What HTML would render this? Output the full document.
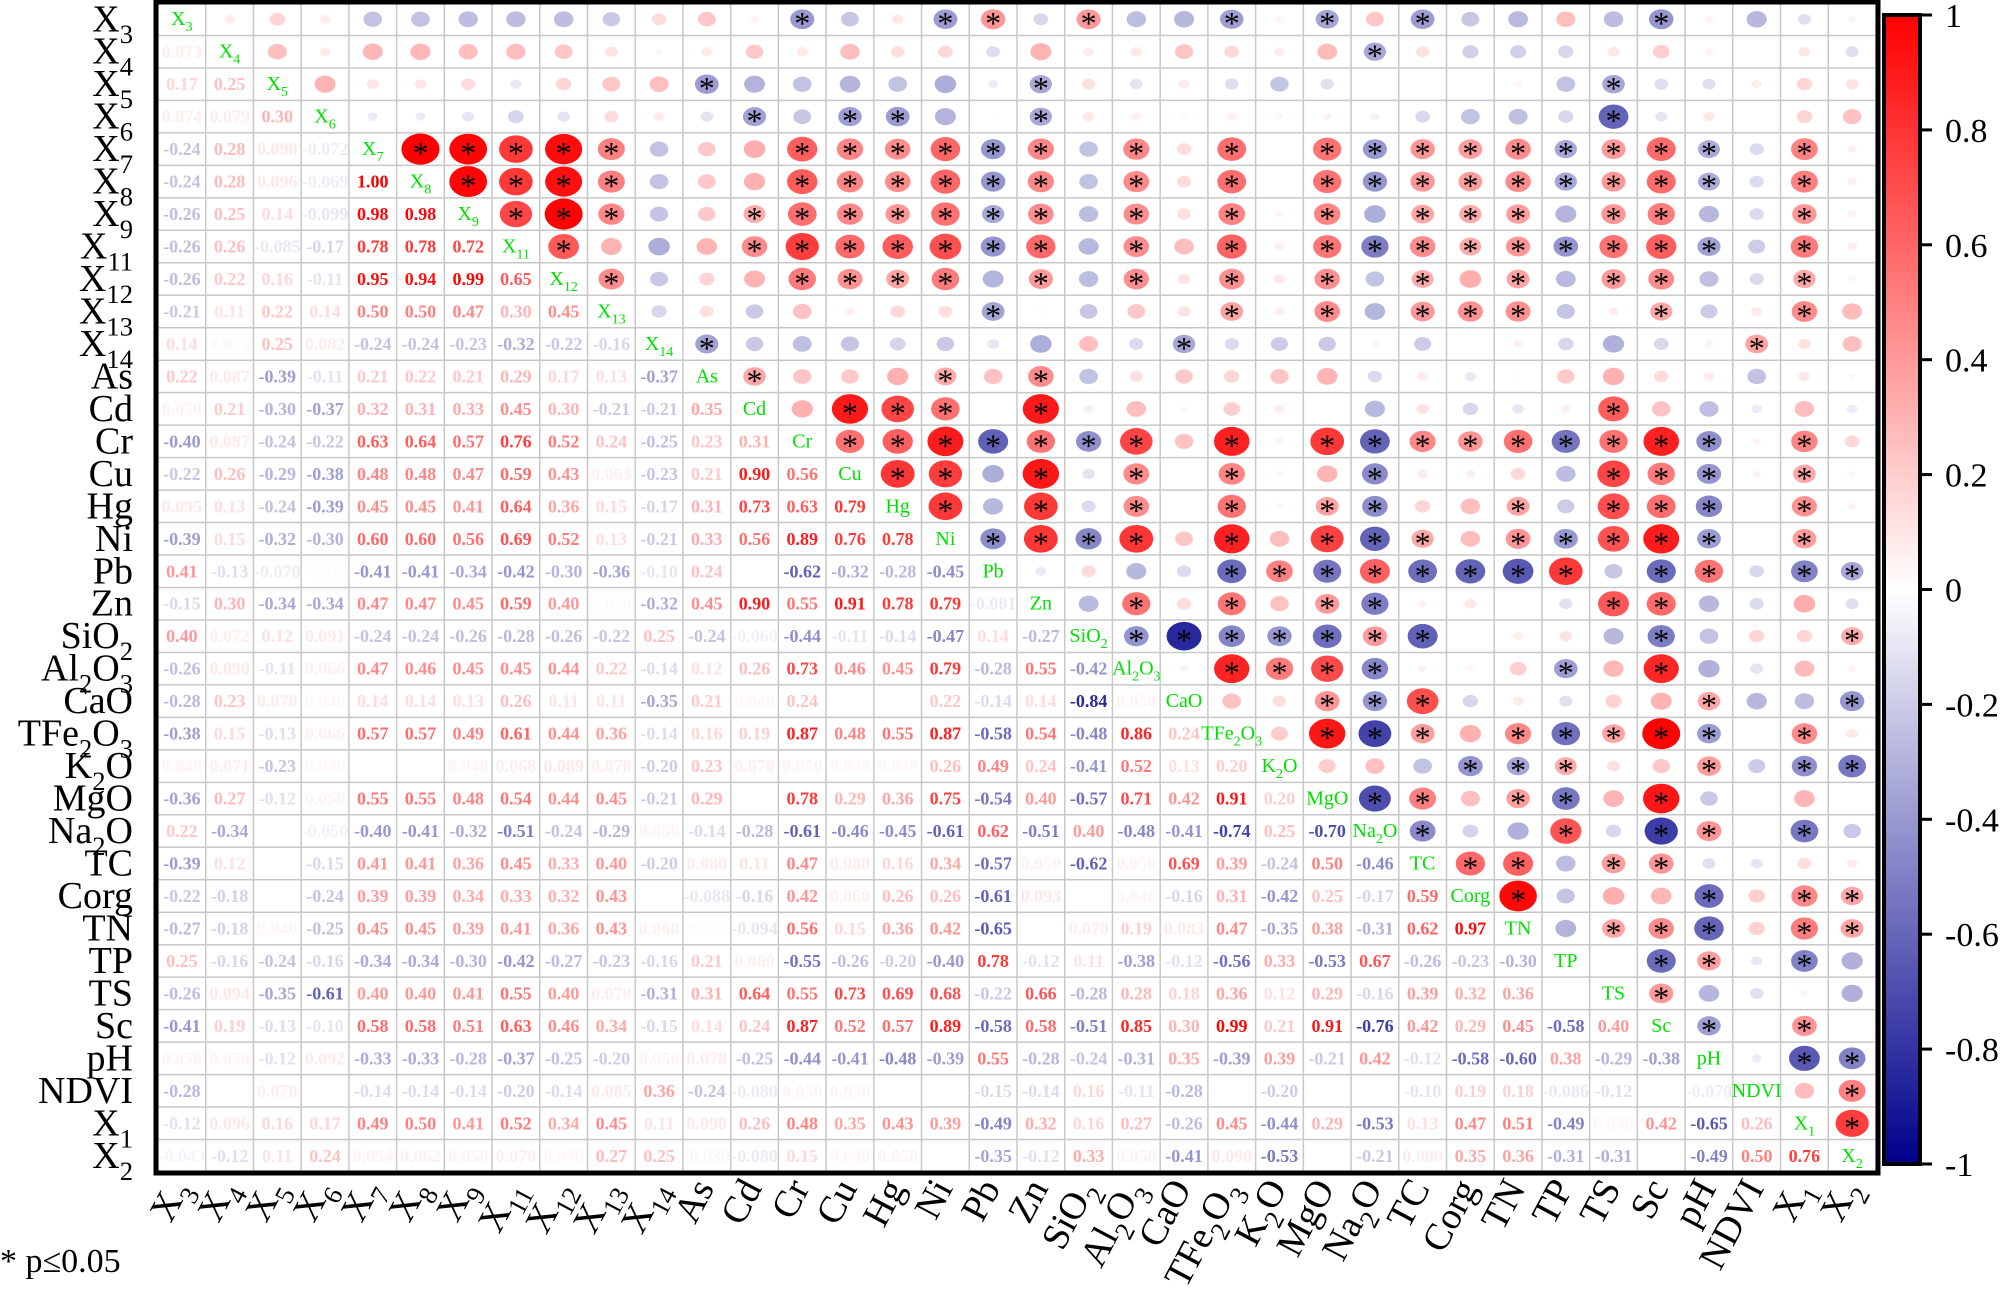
<!DOCTYPE html>
<html><head><meta charset="utf-8"><style>
html,body{margin:0;padding:0;background:#fff;}
svg{display:block;}
</style></head><body>
<svg id="s" width="2004" height="1290" xmlns="http://www.w3.org/2000/svg"></svg>
<script>
var names=["X3","X4","X5","X6","X7","X8","X9","X11","X12","X13","X14","As","Cd","Cr","Cu","Hg","Ni","Pb","Zn","SiO2","Al2O3","CaO","TFe2O3","K2O","MgO","Na2O","TC","Corg","TN","TP","TS","Sc","pH","NDVI","X1","X2"];
var L=[[],
[.073],
[.17,.25],
[.074,.079,.30],
[-.24,.28,.098,-.072],
[-.24,.28,.096,-.069,1.00],
[-.26,.25,.14,-.099,.98,.98],
[-.26,.26,-.085,-.17,.78,.78,.72],
[-.26,.22,.16,-.11,.95,.94,.99,.65],
[-.21,.11,.22,.14,.50,.50,.47,.30,.45],
[.14,.035,.25,.082,-.24,-.24,-.23,-.32,-.22,-.16],
[.22,.087,-.39,-.11,.21,.22,.21,.29,.17,.13,-.37],
[.05,.21,-.30,-.37,.32,.31,.33,.45,.30,-.21,-.21,.35],
[-.40,.087,-.24,-.22,.63,.64,.57,.76,.52,.24,-.25,.23,.31],
[-.22,.26,-.29,-.38,.48,.48,.47,.59,.43,.063,-.23,.21,.90,.56],
[.095,.13,-.24,-.39,.45,.45,.41,.64,.36,.15,-.17,.31,.73,.63,.79],
[-.39,.15,-.32,-.30,.60,.60,.56,.69,.52,.13,-.21,.33,.56,.89,.76,.78],
[.41,-.13,-.07,-.01,-.41,-.41,-.34,-.42,-.30,-.36,-.10,.24,0,-.62,-.32,-.28,-.45],
[-.15,.30,-.34,-.34,.47,.47,.45,.59,.40,.02,-.32,.45,.90,.55,.91,.78,.79,-.081],
[.40,.072,.12,.091,-.24,-.24,-.26,-.28,-.26,-.22,.25,-.24,-.06,-.44,-.11,-.14,-.47,.14,-.27],
[-.26,.090,-.11,.066,.47,.46,.45,.45,.44,.22,-.14,.12,.26,.73,.46,.45,.79,-.28,.55,-.42],
[-.28,.23,.078,.04,.14,.14,.13,.26,.11,.11,-.35,.21,.04,.24,0,0,.22,-.14,.14,-.84,.05],
[-.38,.15,-.13,.066,.57,.57,.49,.61,.44,.36,-.14,.16,.19,.87,.48,.55,.87,-.58,.54,-.48,.86,.24],
[.048,.071,-.23,.04,0,0,.048,.068,.089,.07,-.20,.23,.07,.05,.04,.04,.26,.49,.24,-.41,.52,.13,.20],
[-.36,.27,-.12,.05,.55,.55,.48,.54,.44,.45,-.21,.29,0,.78,.29,.36,.75,-.54,.40,-.57,.71,.42,.91,.20],
[.22,-.34,0,-.05,-.40,-.41,-.32,-.51,-.24,-.29,.05,-.14,-.28,-.61,-.46,-.45,-.61,.62,-.51,.40,-.48,-.41,-.74,.25,-.70],
[-.39,.12,0,-.15,.41,.41,.36,.45,.33,.40,-.20,.08,.11,.47,.08,.16,.34,-.57,.05,-.62,.05,.69,.39,-.24,.50,-.46],
[-.22,-.18,0,-.24,.39,.39,.34,.33,.32,.43,0,-.088,-.16,.42,.06,.26,.26,-.61,.093,0,.04,-.16,.31,-.42,.25,-.17,.59],
[-.27,-.18,.04,-.25,.45,.45,.39,.41,.36,.43,.06,.02,-.094,.56,.15,.36,.42,-.65,0,.07,.19,.083,.47,-.35,.38,-.31,.62,.97],
[.25,-.16,-.24,-.16,-.34,-.34,-.30,-.42,-.27,-.23,-.16,.21,.06,-.55,-.26,-.20,-.40,.78,-.12,.11,-.38,-.12,-.56,.33,-.53,.67,-.26,-.23,-.30],
[-.26,.094,-.35,-.61,.40,.40,.41,.55,.40,.07,-.31,.31,.64,.55,.73,.69,.68,-.22,.66,-.28,.28,.18,.36,.12,.29,-.16,.39,.32,.36,0],
[-.41,.19,-.13,-.10,.58,.58,.51,.63,.46,.34,-.15,.14,.24,.87,.52,.57,.89,-.58,.58,-.51,.85,.30,.99,.21,.91,-.76,.42,.29,.45,-.58,.40],
[.05,.05,-.12,.092,-.33,-.33,-.28,-.37,-.25,-.20,.05,.078,-.25,-.44,-.41,-.48,-.39,.55,-.28,-.24,-.31,.35,-.39,.39,-.21,.42,-.12,-.58,-.60,.38,-.29,-.38],
[-.28,0,.07,0,-.14,-.14,-.14,-.20,-.14,.085,.36,-.24,-.08,.05,.05,0,0,-.15,-.14,.16,-.11,-.28,0,-.20,0,0,-.10,.19,.18,-.086,-.12,0,-.07],
[-.12,.096,.16,.17,.49,.50,.41,.52,.34,.45,.11,.09,.26,.48,.35,.43,.39,-.49,.32,.16,.27,-.26,.45,-.44,.29,-.53,.13,.47,.51,-.49,.04,.42,-.65,.26],
[-.043,-.12,.11,.24,.054,.062,.05,.07,.04,.27,.25,-.03,-.08,.15,.04,.05,0,-.35,-.12,.33,.05,-.41,.09,-.53,0,-.21,.08,.35,.36,-.31,-.31,0,-.49,.50,.76]];
var N=36,x0=158,y0=3,cw=(1876-158)/N,ch=(1172-3)/N;
var SF="font-family=\"'Liberation Serif', serif\"";
function R(i,j){return i>j?L[i][j]:L[j][i];}
function col(r){var a=Math.abs(r),c;
 if(r>=0){c=[255,Math.round(255*(1-a)),Math.round(255*(1-a))];}
 else{c=[Math.round(255*(1-a)),Math.round(255*(1-a)),Math.round(255-116*a)];}
 return "rgb("+c.join(",")+")";}
function lab(n,sub){
 var o="";for(var k=0;k<n.length;k++){var ch_=n[k];
  if(/[0-9]/.test(ch_)){var s="";while(k<n.length&&/[0-9]/.test(n[k])){s+=n[k];k++;}k--;
   o+='<tspan dy="'+sub+'" font-size="0.7em">'+s+'</tspan><tspan dy="'+(-sub)+'">\u200b</tspan>';}
  else o+=ch_;}
 return o;}
var h="";
for(var i=0;i<=N;i++){h+='<line x1="'+(x0+i*cw)+'" y1="'+y0+'" x2="'+(x0+i*cw)+'" y2="'+(y0+N*ch)+'" stroke="#c8c8c8" stroke-width="1.5"/>';
 h+='<line x1="'+x0+'" y1="'+(y0+i*ch)+'" x2="'+(x0+N*cw)+'" y2="'+(y0+i*ch)+'" stroke="#c8c8c8" stroke-width="1.5"/>';}
for(var i=0;i<N;i++){for(var j=0;j<N;j++){
 var cx=x0+(j+.5)*cw,cy=y0+(i+.5)*ch;
 if(i==j){h+='<text x="'+cx+'" y="'+(cy+6)+'" text-anchor="middle" '+SF+' font-size="20" fill="#00e000">'+lab(names[i],6)+'</text>';}
 else if(i>j){var r=R(i,j),a=Math.abs(r);var s=(a>=0.1||a==0)?r.toFixed(2):r.toPrecision(2);
  h+='<text x="'+cx+'" y="'+(cy+6)+'" text-anchor="middle" '+SF+' font-weight="bold" font-size="18" fill="'+col(r)+'">'+s+'</text>';}
 else{var r=R(i,j),a=Math.abs(r);var f=Math.sqrt(a);
  h+='<ellipse cx="'+cx+'" cy="'+cy+'" rx="'+(cw*0.4*f)+'" ry="'+(ch*0.48*f)+'" fill="'+col(r)+'"/>';
  if(a>=0.33)h+='<text x="'+cx+'" y="'+(cy+15)+'" text-anchor="middle" '+SF+' font-size="32" fill="#000">*</text>';}
}}
h+='<rect x="'+(x0-2)+'" y="'+(y0-1)+'" width="'+(N*cw+4)+'" height="'+(N*ch+2)+'" fill="none" stroke="#000" stroke-width="5"/>';
for(var i=0;i<N;i++){var cy=y0+(i+.5)*ch;
 h+='<text x="133" y="'+(cy+12)+'" text-anchor="end" '+SF+' font-size="38" fill="#000">'+lab(names[i],12)+'</text>';}
for(var j=0;j<N;j++){var cx=x0+(j+.5)*cw+8;
 h+='<text transform="translate('+cx+',1188) rotate(-62)" text-anchor="end" '+SF+' font-size="38" fill="#000">'+lab(names[j],12)+'</text>';}
h+='<defs><linearGradient id="g" x1="0" y1="0" x2="0" y2="1"><stop offset="0" stop-color="#ff0000"/><stop offset="0.5" stop-color="#ffffff"/><stop offset="1" stop-color="#00008b"/></linearGradient></defs>';
var ct=15,cb=1164;
h+='<rect x="1884" y="'+ct+'" width="36" height="'+(cb-ct)+'" fill="url(#g)" stroke="#000" stroke-width="4"/>';
var tl=["1","0.8","0.6","0.4","0.2","0","-0.2","-0.4","-0.6","-0.8","-1"];
for(var k=0;k<11;k++){var y=ct+k*(cb-ct)/10;
 h+='<line x1="1920" y1="'+y+'" x2="1932" y2="'+y+'" stroke="#000" stroke-width="3"/>';
 h+='<text x="1945" y="'+(y+12)+'" '+SF+' font-size="34" fill="#000">'+tl[k]+'</text>';}
h+='<text x="0" y="1272" '+SF+' font-size="34" fill="#000">* p≤0.05</text>';
document.getElementById("s").innerHTML=h;
</script>
</body></html>
